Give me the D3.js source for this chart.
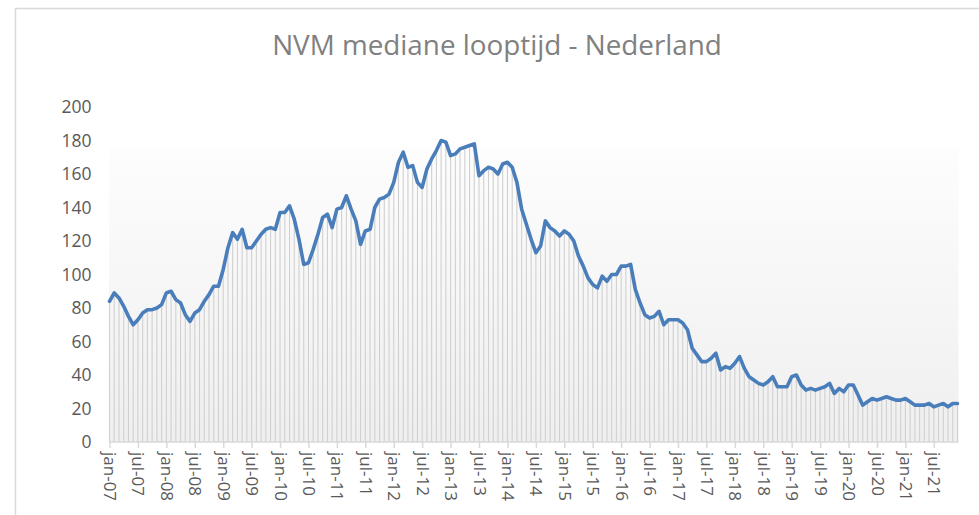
<!DOCTYPE html>
<html>
<head>
	<meta charset="utf-8">
	<title>NVM mediane looptijd</title>
	<script src="https://cdn.jsdelivr.net/npm/d3@7/dist/d3.min.js"></script>
	<style>
		body { margin: 0; background: #fff; }
		text { font-family: "Open Sans", "Noto Sans", sans-serif; }
	</style>
</head>
<body>
	<script type="text/javascript">

		// maandnamen + jaren -> categorieen jan-07 .. dec-21
		var maanden = ["jan", "feb", "mrt", "apr", "mei", "jun", "jul", "aug", "sep", "okt", "nov", "dec"];
		var jaren = ["07", "08", "09", "10", "11", "12", "13", "14", "15", "16", "17", "18", "19", "20", "21"];

		var looptijd = [
			84, 89, 86, 81, 75, 70, 73, 77, 79, 79, 80, 82,          // 2007
			89, 90, 85, 83, 76, 72, 77, 79, 84, 88, 93, 93,          // 2008
			103, 116, 125, 121, 127, 116, 116, 120, 124, 127, 128, 127, // 2009
			137, 137, 141, 133, 121, 106, 107, 115, 124, 134, 136, 128, // 2010
			139, 140, 147, 139, 132, 118, 126, 127, 140, 145, 146, 148, // 2011
			155, 167, 173, 164, 165, 155, 152, 163, 169, 174, 180, 179, // 2012
			171, 172, 175, 176, 177, 178, 159, 162, 164, 163, 160, 166, // 2013
			167, 164, 155, 139, 130, 121, 113, 117, 132, 128, 126, 123, // 2014
			126, 124, 120, 111, 105, 98, 94, 92, 99, 96, 100, 100,    // 2015
			105, 105, 106, 91, 83, 76, 74, 75, 78, 70, 73, 73,        // 2016
			73, 71, 67, 56, 52, 48, 48, 50, 53, 43, 45, 44,           // 2017
			47, 51, 44, 39, 37, 35, 34, 36, 39, 33, 33, 33,           // 2018
			39, 40, 34, 31, 32, 31, 32, 33, 35, 29, 32, 30,           // 2019
			34, 34, 28, 22, 24, 26, 25, 26, 27, 26, 25, 25,           // 2020
			26, 24, 22, 22, 22, 23, 21, 22, 23, 21, 23, 23            // 2021
		];

		var tickLabels = [
			"jan-07", "jul-07", "jan-08", "jul-08", "jan-09", "jul-09", "jan-10", "jul-10",
			"jan-11", "jul-11", "jan-12", "jul-12", "jan-13", "jul-13", "jan-14", "jul-14",
			"jan-15", "jul-15", "jan-16", "jul-16", "jan-17", "jul-17", "jan-18", "jul-18",
			"jan-19", "jul-19", "jan-20", "jul-20", "jan-21", "jul-21"
		];
		var yTicks = [0, 20, 40, 60, 80, 100, 120, 140, 160, 180, 200];

		var categorieen = [];
		jaren.forEach(function (j) {
			maanden.forEach(function (m) { categorieen.push(m + "-" + j); });
		});
		var data = looptijd.map(function (v, i) { return { cat: categorieen[i], v: v }; });

		var width = 979;
		var height = 515;
		var padL = 109.5, padR = 957.5, padT = 107, padB = 442;

		var svg = d3.select("body").append("svg")
			.attr("width", width)
			.attr("height", height);

		// kader
		svg.append("rect")
			.attr("x", 15.5).attr("y", 8.5)
			.attr("width", 1000).attr("height", 600)
			.attr("fill", "none")
			.attr("stroke", "#d9d9d9")
			.attr("stroke-width", 1.5);

		var x = d3.scalePoint()
			.domain(categorieen)
			.range([padL, padR]);

		var y = d3.scaleLinear()
			.domain([0, 200])
			.range([padB, padT]);

		// verloop achter de lijn
		var defs = svg.append("defs");
		var grad = defs.append("linearGradient")
			.attr("id", "bg")
			.attr("x1", 0).attr("y1", 0).attr("x2", 0).attr("y2", 1);
		grad.append("stop").attr("offset", "0%").attr("stop-color", "#fdfdfd");
		grad.append("stop").attr("offset", "100%").attr("stop-color", "#efefef");

		svg.append("rect")
			.attr("x", padL - 0.5)
			.attr("y", y(175.5))
			.attr("width", padR - padL + 1.5)
			.attr("height", padB - y(175.5))
			.attr("fill", "url(#bg)");

		// loodlijnen
		svg.append("g")
			.selectAll("line")
			.data(data)
			.enter()
				.append("line")
				.attr("x1", function (d) { return x(d.cat); })
				.attr("x2", function (d) { return x(d.cat); })
				.attr("y1", function (d) { return y(d.v); })
				.attr("y2", padB)
				.attr("stroke", "#d0d0d0")
				.attr("stroke-width", 1.1);

		// y-as
		var yAxis = d3.axisLeft(y)
			.tickValues(yTicks)
			.tickSize(0)
			.tickPadding(18);

		svg.append("g")
			.attr("transform", "translate(" + padL + ",0)")
			.call(yAxis)
			.call(function (g) { g.select(".domain").remove(); })
			.selectAll("text")
				.attr("font-family", "'Open Sans', 'Noto Sans', sans-serif")
				.attr("font-size", 17.5)
				.attr("fill", "#595959");

		// x-as
		var xAxis = d3.axisBottom(x)
			.tickValues(tickLabels)
			.tickSize(6)
			.tickSizeOuter(0);

		var gx = svg.append("g")
			.attr("transform", "translate(0," + padB + ")")
			.call(xAxis);

		gx.select(".domain")
			.attr("stroke", "#d9d9d9")
			.attr("stroke-width", 1.5)
			.attr("d", "M" + (padL - 0.5) + ",0H" + (padR + 1));
		gx.selectAll(".tick line")
			.attr("stroke", "#d9d9d9")
			.attr("stroke-width", 1.5);
		gx.selectAll(".tick text")
			.attr("font-family", "'Open Sans', 'Noto Sans', sans-serif")
			.attr("font-size", 17)
			.attr("fill", "#595959")
			.attr("text-anchor", "start")
			.attr("transform", "rotate(90)")
			.attr("x", 10)
			.attr("y", 0)
			.attr("dy", "0.35em");

		// lijn
		var line = d3.line()
			.x(function (d) { return x(d.cat); })
			.y(function (d) { return y(d.v); });

		svg.append("path")
			.datum(data)
			.attr("d", line)
			.attr("fill", "none")
			.attr("stroke", "#4a7ebb")
			.attr("stroke-width", 3.6)
			.attr("stroke-linejoin", "round")
			.attr("stroke-linecap", "round");

		// titel
		var titel = svg.append("text")
			.attr("x", 497)
			.attr("y", 55)
			.attr("text-anchor", "middle")
			.attr("font-size", 26)
			.attr("fill", "#808080")
			.text("NVM mediane looptijd - Nederland");

		var tw = titel.node().getComputedTextLength();
		titel.attr("font-size", 26 * 450 / tw);

	</script>
</body>
</html>
